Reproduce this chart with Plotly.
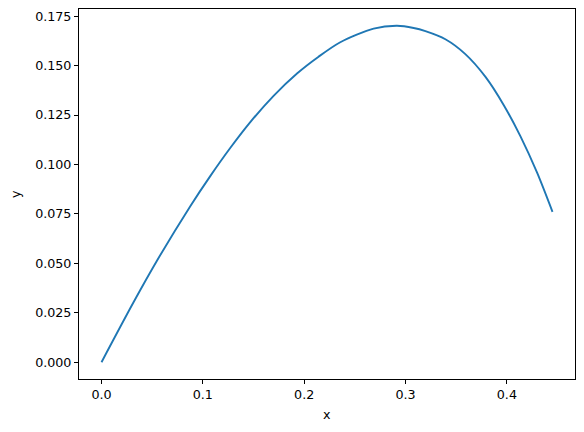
import plotly.graph_objects as go

# points
x_vals = [0.0, 0.0316, 0.0547, 0.0876, 0.1073, 0.1270, 0.1468, 0.1698, 0.1929,
          0.2142, 0.2356, 0.2685, 0.2916, 0.3080, 0.3196, 0.3393, 0.3590,
          0.3787, 0.3968, 0.4133, 0.4298, 0.4450]
y_vals = [0.0, 0.0303, 0.0513, 0.0789, 0.0941, 0.1083, 0.1214, 0.1347, 0.1460,
          0.1545, 0.1618, 0.1687, 0.1701, 0.1690, 0.1674, 0.1633, 0.1558,
          0.1444, 0.1301, 0.1143, 0.0958, 0.0760]

x_ticks = [0.0, 0.1, 0.2, 0.3, 0.4]
y_ticks = [0.0, 0.025, 0.05, 0.075, 0.1, 0.125, 0.15, 0.175]

fig = go.Figure()

fig.add_trace(go.Scatter(
    x=x_vals,
    y=y_vals,
    mode='lines',
    line=dict(color='#1f77b4', width=1.9, shape='spline', smoothing=0.8),
    showlegend=False
))

axis_style = dict(
    showgrid=False,
    zeroline=False,
    showline=True,
    linecolor='black',
    linewidth=1,
    mirror=True,
    ticks='outside',
    ticklen=4,
    tickwidth=1,
    tickcolor='black',
    automargin=False,
    tickfont=dict(family='DejaVu Sans', size=12.7, color='black'),
)

# the page body adds an 8px offset, so the figure is 8px smaller
fig.update_layout(
    width=576,
    height=424,
    margin=dict(l=71, r=9, t=1, b=53),
    paper_bgcolor='white',
    plot_bgcolor='white',
    font=dict(family='DejaVu Sans', size=12.7, color='black'),
    xaxis=dict(axis_style, range=[-0.0222, 0.4672], tickvals=x_ticks,
               ticktext=['%.1f' % v for v in x_ticks]),
    yaxis=dict(axis_style, range=[-0.0085, 0.1786], tickvals=y_ticks,
               ticktext=['%.3f' % v for v in y_ticks]),
)

# axis labels placed like the matplotlib ones
fig.add_annotation(text='x', xref='paper', yref='paper', x=0.5, y=0,
                   yshift=-35, showarrow=False, yanchor='middle',
                   font=dict(size=12.7))
fig.add_annotation(text='y', xref='paper', yref='paper', x=0, xshift=-64,
                   y=0.5, showarrow=False, textangle=-90, xanchor='center',
                   font=dict(size=12.7))

fig.write_html("out.html")
